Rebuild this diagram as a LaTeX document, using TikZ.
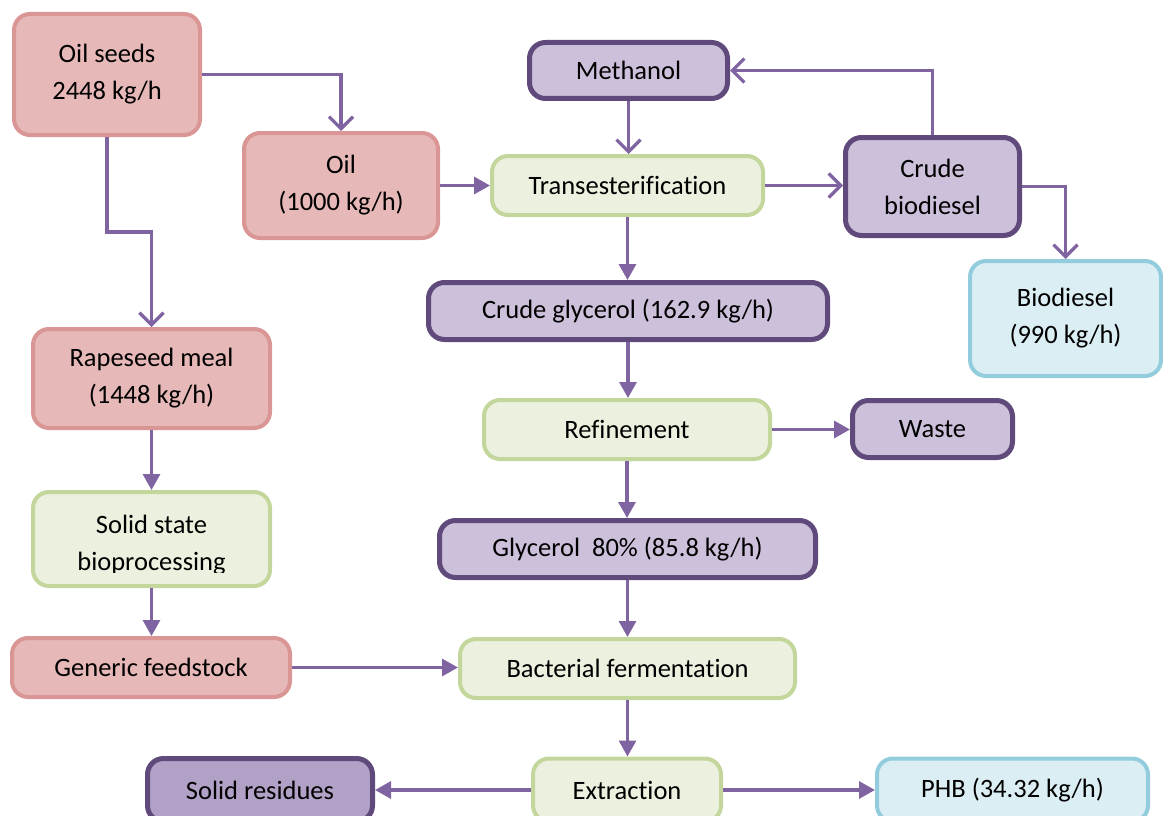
\documentclass[tikz,border=0pt]{standalone}
\usepackage{fontspec}
\setmainfont[Ligatures=NoCommon]{Carlito}
\usetikzlibrary{arrows.meta}

\definecolor{pinkfill}{HTML}{E6B8B7}
\definecolor{pinkline}{HTML}{D99694}
\definecolor{greenfill}{HTML}{EBF1DE}
\definecolor{greenline}{HTML}{C3D69B}
\definecolor{purplefill}{HTML}{CCC0DA}
\definecolor{purpledark}{HTML}{B2A1C7}
\definecolor{purpleline}{HTML}{604A7B}
\definecolor{bluefill}{HTML}{DBEEF3}
\definecolor{blueline}{HTML}{93CDDD}
\definecolor{flow}{HTML}{8064A2}

\tikzset{
  box/.style={rectangle, rounded corners=16pt, align=center, inner sep=0pt,
    font=\fontsize{26.5}{37}\selectfont, text=black},
  feed/.style={box, fill=pinkfill, draw=pinkline, line width=4pt},
  proc/.style={box, fill=greenfill, draw=greenline, line width=4pt},
  prod/.style={box, fill=purplefill, draw=purpleline, line width=5pt},
  prodB/.style={box, fill=purpledark, draw=purpleline, line width=5pt},
  final/.style={box, fill=bluefill, draw=blueline, line width=4pt},
  openflow/.style={draw=flow, line width=3.2pt,
    -{Straight Barb[length=12pt, width=24pt, line width=3.2pt]}},
  solidflow/.style={draw=flow, line width=3.2pt,
    -{Triangle[length=16pt, width=17pt]}},
}

\begin{document}
\begin{tikzpicture}[x=1pt, y=-1pt]
\useasboundingbox (0,0) rectangle (1163,816);
\clip (0,0) rectangle (1163,816);

% feedstock side
\node[feed, minimum width=186pt, minimum height=121pt] (oilseeds) at (107,74.5) {Oil seeds\\2448 kg/h};
\node[feed, minimum width=194pt, minimum height=105pt] (oil) at (341,185.5) {Oil\\(1000 kg/h)};
\node[feed, minimum width=237pt, minimum height=99pt] (rapeseed) at (151.5,378.5) {Rapeseed meal\\(1448 kg/h)};
\node[proc, minimum width=237pt, minimum height=94pt] (solidstate) at (151.5,539) {};
\begin{scope}
  \clip (solidstate.north west) rectangle (solidstate.east |- 0,572);
  \node[box] (solidstatetext) at (151.5,545) {Solid state\\bioprocessing};
\end{scope}
\node[feed, minimum width=278pt, minimum height=59pt] (generic) at (151,667.5) {Generic feedstock};

% biodiesel line
\node[prod, minimum width=198pt, minimum height=56pt] (methanol) at (628.5,70.5) {Methanol};
\node[proc, minimum width=271pt, minimum height=59pt] (trans) at (627.5,185.5) {Transesterification};
\node[prod, minimum width=174pt, minimum height=98pt] (crudebio) at (932.5,186.5) {Crude\\biodiesel};
\node[final, minimum width=191pt, minimum height=115pt] (biodiesel) at (1065.5,318.5) {Biodiesel\\(990 kg/h)};

% glycerol line
\node[prod, minimum width=399pt, minimum height=57pt] (crudegly) at (628,311) {Crude glycerol (162.9 kg/h)};
\node[proc, minimum width=286pt, minimum height=59pt] (refine) at (627,429.5) {Refinement};
\node[prod, minimum width=160pt, minimum height=57pt] (waste) at (932.5,429) {Waste};
\node[prod, minimum width=376pt, minimum height=57pt] (glycerol) at (627.5,549) {Glycerol~ 80\% (85.8 kg/h)};
\node[proc, minimum width=335pt, minimum height=59pt] (bact) at (627.5,668.5) {Bacterial fermentation};
\node[proc, minimum width=188pt, minimum height=63pt] (extraction) at (627,790) {Extraction};
\node[prodB, minimum width=225pt, minimum height=63pt] (solidres) at (260,790) {Solid residues};
\node[final, minimum width=271pt, minimum height=63pt] (phb) at (1012.5,790) {PHB (34.32 kg/h)};

% connectors with open heads
\draw[openflow] (oilseeds.east) -| (oil.north);
\draw[openflow] (oilseeds.south) -- ++(0,95) -| (rapeseed.north);
\draw[openflow] (methanol.south) -- (methanol.south |- trans.north);
\draw[openflow] (trans.east) -- (crudebio.west |- trans.east);
\draw[openflow] (crudebio.north) |- (methanol.east);
\draw[openflow] (crudebio.east) -| (biodiesel.north);

% connectors with filled heads
\draw[solidflow] (oil.east) -- (trans.west |- oil.east);
\draw[solidflow] (trans.south) -- (trans.south |- crudegly.north);
\draw[solidflow] (crudegly.south) -- (crudegly.south |- refine.north);
\draw[solidflow] (refine.east) -- (waste.west |- refine.east);
\draw[solidflow] (refine.south) -- (refine.south |- glycerol.north);
\draw[solidflow] (glycerol.south) -- (glycerol.south |- bact.north);
\draw[solidflow] (rapeseed.south) -- (rapeseed.south |- solidstate.north);
\draw[solidflow] (solidstate.south) -- (solidstate.south |- generic.north);
\draw[solidflow] (generic.east) -- (bact.west |- generic.east);
\draw[solidflow] (bact.south) -- (bact.south |- extraction.north);
\draw[solidflow] (extraction.west) -- (solidres.east);
\draw[solidflow] (extraction.east) -- (phb.west);
\end{tikzpicture}
\end{document}
